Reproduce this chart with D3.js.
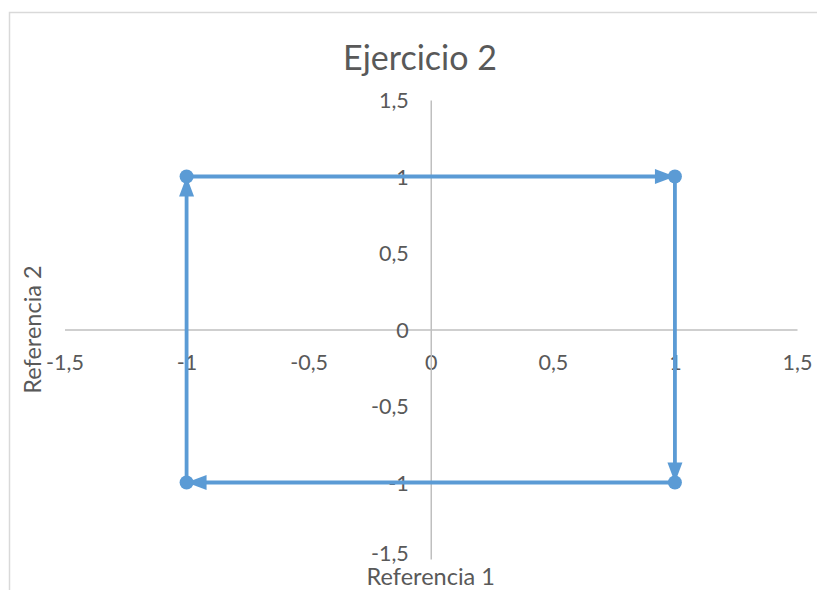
<!DOCTYPE html>
<html>
<head>
<meta charset="utf-8">
<script src="https://cdn.jsdelivr.net/npm/d3@7/dist/d3.min.js"></script>
<style>
  html, body { margin: 0; padding: 0; background: #fff; }
  svg { display: block; }
</style>
</head>
<body>
<svg id="chart" width="817" height="590"></svg>
<script>
// Path traced in the exercise: square visited clockwise, back to the start
const xValues = [-1, 1, 1, -1, -1];
const yValues = [1, 1, -1, -1, 1];
const tickValues = [-1.5, -1, -0.5, 0, 0.5, 1, 1.5];
const chartTitle = "Ejercicio 2";
const xTitle = "Referencia 1";
const yTitle = "Referencia 2";

const W = 817, H = 590;
const FONT = "Lato, 'Open Sans', sans-serif";
const TEXT = "#595959";
const AXIS = "#BFBFBF";
const BLUE = "#5B9BD5";

const locale = d3.formatLocale({ decimal: ",", thousands: ".", grouping: [3], currency: ["", "€"] });
const fmt = v => locale.format("~g")(v).replace("−", "-");

const svg = d3.select("#chart");

// chart area frame (continues past the right and bottom edges)
svg.append("rect")
  .attr("x", 9.5).attr("y", 12.5)
  .attr("width", W + 20).attr("height", H + 20)
  .attr("fill", "#fff").attr("stroke", "#D9D9D9").attr("stroke-width", 1.5);

const x = d3.scaleLinear().domain([-1.5, 1.5]).range([64.5, 797]);
const y = d3.scaleLinear().domain([-1.5, 1.5]).range([559, 100]);

// title
svg.append("text")
  .attr("x", 420).attr("y", 70)
  .attr("text-anchor", "middle")
  .attr("font-family", FONT).attr("font-size", 34)
  .attr("fill", TEXT)
  .text(chartTitle);

// horizontal axis through y = 0
const xAxis = d3.axisBottom(x).tickValues(tickValues).tickSize(0).tickPadding(25).tickFormat(fmt);
const gx = svg.append("g").attr("transform", `translate(0,${y(0)})`).call(xAxis);

// vertical axis through x = 0
const yAxis = d3.axisLeft(y).tickValues(tickValues).tickSize(0).tickPadding(22).tickFormat(fmt);
const gy = svg.append("g").attr("transform", `translate(${x(0)},0)`).call(yAxis);

[gx, gy].forEach(g => {
  g.select(".domain").attr("stroke", AXIS).attr("stroke-width", 1.5);
  g.selectAll("text").attr("font-family", FONT).attr("font-size", 21.5).attr("fill", TEXT);
});
gy.selectAll("text").attr("dy", "0.36em");
// lowest vertical-axis label sits just above the horizontal axis title
gy.selectAll(".tick").filter(d => d === -1.5).select("text").attr("dy", "0.05em");

// axis titles
svg.append("text")
  .attr("x", x(0)).attr("y", 585)
  .attr("text-anchor", "middle")
  .attr("font-family", FONT).attr("font-size", 23.5)
  .attr("fill", TEXT)
  .text(xTitle);

svg.append("text")
  .attr("transform", `translate(41,${y(0)}) rotate(-90)`)
  .attr("text-anchor", "middle")
  .attr("font-family", FONT).attr("font-size", 23.5)
  .attr("fill", TEXT)
  .text(yTitle);

// series: one segment per step, each with an arrowhead at its end
const pts = xValues.map((v, i) => [x(v), y(yValues[i])]);
const segs = d3.pairs(pts);
const ARROW_LEN = 20, ARROW_HALF = 7.5;

const series = svg.append("g");
series.selectAll("line.seg").data(segs).join("line")
  .attr("class", "seg")
  .attr("x1", d => d[0][0]).attr("y1", d => d[0][1])
  .attr("x2", d => d[1][0]).attr("y2", d => d[1][1])
  .attr("stroke", BLUE).attr("stroke-width", 3.8);

series.selectAll("path.arrow").data(segs).join("path")
  .attr("class", "arrow")
  .attr("fill", BLUE)
  .attr("d", ([a, b]) => {
    const dx = b[0] - a[0], dy = b[1] - a[1];
    const len = Math.hypot(dx, dy);
    const ux = dx / len, uy = dy / len;
    const bx = b[0] - ux * ARROW_LEN, by = b[1] - uy * ARROW_LEN;
    return `M${b[0]},${b[1]}L${bx - uy * ARROW_HALF},${by + ux * ARROW_HALF}L${bx + uy * ARROW_HALF},${by - ux * ARROW_HALF}Z`;
  });

series.selectAll("circle").data(pts.slice(0, 4)).join("circle")
  .attr("cx", d => d[0]).attr("cy", d => d[1])
  .attr("r", 7)
  .attr("fill", BLUE);
</script>
</body>
</html>
